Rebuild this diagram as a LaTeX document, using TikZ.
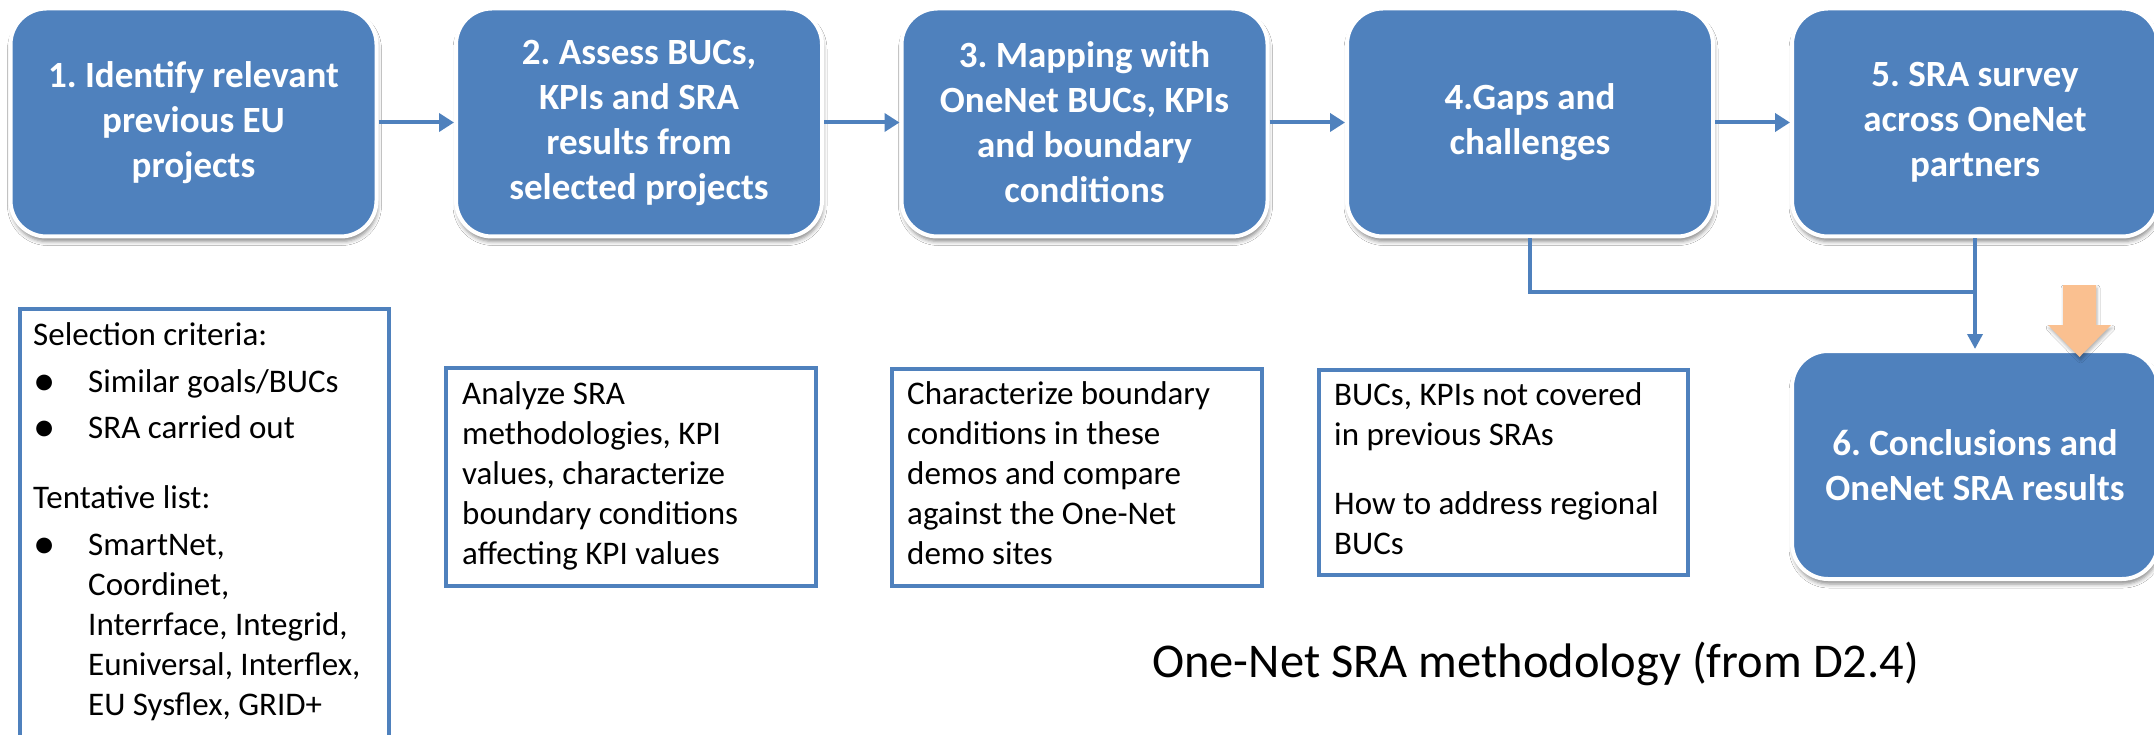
\documentclass[tikz,border=0pt]{standalone}
\usepackage{fontspec}
\setmainfont{Carlito}
\frenchspacing
\usetikzlibrary{arrows.meta,shadows.blur}
\definecolor{stepblue}{HTML}{4F81BD}
\definecolor{hintorange}{HTML}{FAC090}
\newcommand{\listdot}{\makebox[55pt][l]{\raisebox{-3pt}{\scalebox{1.35}{\textbullet}}}}

\begin{document}
\begin{tikzpicture}[x=1pt,y=-1pt,
  stepbox/.style={rectangle, rounded corners=36pt, fill=stepblue, draw=white,
    line width=4pt, minimum width=366pt, minimum height=228pt, inner sep=0pt,
    text=white, align=center, font=\fontsize{37}{45}\selectfont\bfseries,
    blur shadow={shadow xshift=1pt, shadow yshift=-5pt,
      shadow blur radius=4pt, shadow opacity=45}},
  notebox/.style={rectangle, draw=stepblue, line width=4pt, fill=white,
    inner sep=0pt, anchor=north west},
  notetext/.style={anchor=north west, align=left, inner sep=0pt,
    font=\fontsize{33}{40}\selectfont},
  flow/.style={draw=stepblue, line width=4pt, -{Triangle[length=15pt,width=18pt]}},
  link/.style={draw=stepblue, line width=3.5pt},
  linkarrow/.style={link, -{Triangle[length=15pt,width=15pt]}},
]
\useasboundingbox (0,0) rectangle (2154,735);
\fill[white] (0,0) rectangle (2154,735);

% process steps
\node[stepbox] (b1) at (193.5,122.5) {1. Identify relevant\\previous EU\\projects};
\node[stepbox] (b2) at (639,122.5) {2. Assess BUCs,\\KPIs and SRA\\results from\\selected projects};
\node[stepbox] (b3) at (1084.5,122.5) {3. Mapping with\\OneNet BUCs, KPIs\\and boundary\\conditions};
\node[stepbox] (b4) at (1530,122.5) {4.Gaps and\\challenges};
\node[stepbox] (b5) at (1975,122.5) {5. SRA survey\\across OneNet\\partners};
\node[stepbox] (b6) at (1975,465) {6. Conclusions and\\OneNet SRA results};

% sequence arrows
\draw[flow] (b1.east) -- (b2.west);
\draw[flow] (b2.east) -- (b3.west);
\draw[flow] (b3.east) -- (b4.west);
\draw[flow] (b4.east) -- (b5.west);

% merge of steps 4 and 5 into step 6
\coordinate (j) at (1975,292);
\draw[link] (b4.south) -- (b4.south |- j) -- (j);
\draw[linkarrow] (b5.south) -- (b6.north);

% orange block arrow
\fill[hintorange, blur shadow={shadow xshift=1pt, shadow yshift=-3pt,
    shadow blur radius=3pt, shadow opacity=30}]
  (2063,285) -- (2096,285) -- (2096,325) -- (2111,325) -- (2079.5,357)
  -- (2048,325) -- (2063,325) -- cycle;

% description boxes
\node[notebox, minimum width=369pt, minimum height=470pt] (n1) at (18,307) {};
\node[notebox, minimum width=370pt, minimum height=218pt] (n2) at (444,366) {};
\node[notebox, minimum width=370pt, minimum height=217pt] (n3) at (890,367) {};
\node[notebox, minimum width=369pt, minimum height=205pt] (n4) at (1317,368) {};

\node[notetext] (t1) at (33,317) {\strut Selection criteria:\\[7pt]
  \listdot Similar goals/BUCs\\[6pt]
  \listdot SRA carried out\\[30pt]
  Tentative list:\\[7pt]
  \listdot SmartNet,\\
  \hspace*{55pt}Coordinet,\\
  \hspace*{55pt}Interrface, Integrid,\\
  \hspace*{55pt}Euniversal, Interflex,\\
  \hspace*{55pt}EU Sysflex, GRID+};

\node[notetext] (t2) at (462,376) {\strut Analyze SRA\\methodologies, KPI\\values, characterize\\boundary conditions\\affecting KPI values};
\node[notetext] (t3) at (907,376) {\strut Characterize boundary\\conditions in these\\demos and compare\\against the One-Net\\demo sites};
\node[notetext] (t4) at (1334,377) {\strut BUCs, KPIs not covered\\in previous SRAs\\[29pt]How to address regional\\BUCs};

% caption
\node[anchor=base west, inner sep=0pt, font=\fontsize{48.5}{58}\selectfont] (cap) at (1152,677) {One-Net SRA methodology (from D2.4)};
\end{tikzpicture}
\end{document}
